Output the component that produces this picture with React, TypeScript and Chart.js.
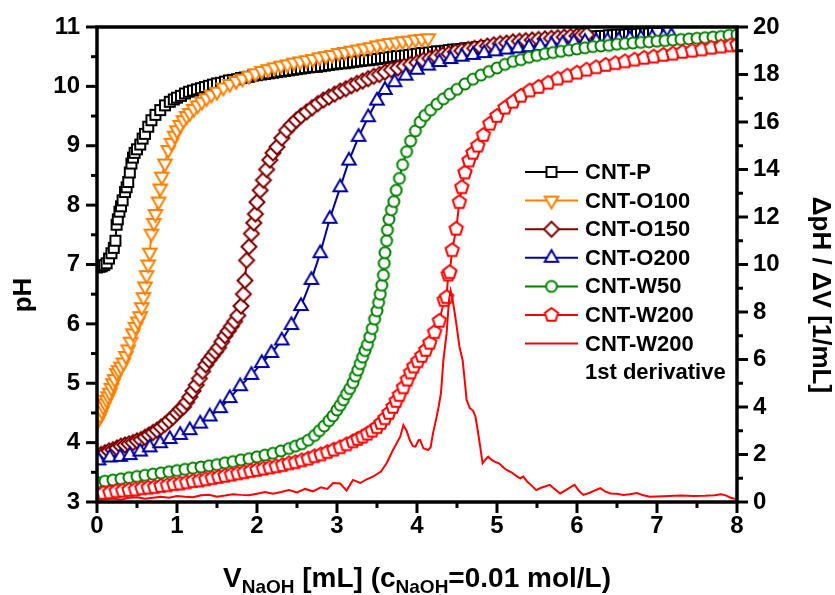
import React, { useEffect, useRef } from 'react';
import { Chart, registerables } from 'chart.js';

Chart.register(...registerables);

const FONT = '"Liberation Sans", Arial, Helvetica, sans-serif';

// ---- data: [V_NaOH (mL), value] ----
const cntP = [
  [0, 6.95], [0.03, 6.96], [0.06, 6.97], [0.09, 6.99], [0.12, 7.02], [0.15, 7.1], [0.18, 7.19], [0.21, 7.28],
  [0.23, 7.4], [0.245, 7.67], [0.26, 7.76], [0.28, 7.89], [0.3, 7.98], [0.32, 8.08], [0.35, 8.22], [0.37, 8.3],
  [0.39, 8.39], [0.41, 8.55], [0.43, 8.7], [0.45, 8.8], [0.47, 8.88], [0.5, 8.94], [0.54, 9.02], [0.57, 9.12],
  [0.6, 9.2], [0.64, 9.32], [0.68, 9.43], [0.73, 9.52], [0.79, 9.6], [0.85, 9.68], [0.91, 9.74], [0.96, 9.78],
  [1.0, 9.81], [1.05, 9.84], [1.1, 9.88], [1.15, 9.91], [1.2, 9.93], [1.25, 9.95], [1.3, 9.97], [1.35, 9.99],
  [1.4, 10.01], [1.45, 10.03], [1.5, 10.05], [1.55, 10.06], [1.6, 10.08], [1.65, 10.1], [1.7, 10.11], [1.75, 10.12],
  [1.8, 10.14], [1.85, 10.15], [1.9, 10.16], [1.95, 10.18], [2.0, 10.19], [2.05, 10.2], [2.1, 10.21], [2.15, 10.22],
  [2.2, 10.23], [2.25, 10.24], [2.3, 10.25], [2.35, 10.26], [2.4, 10.27], [2.45, 10.28], [2.5, 10.29], [2.55, 10.3],
  [2.6, 10.31], [2.65, 10.32], [2.7, 10.33], [2.75, 10.33], [2.8, 10.34], [2.85, 10.35], [2.9, 10.36], [2.95, 10.37],
  [3.0, 10.38], [3.05, 10.39], [3.1, 10.39], [3.15, 10.4], [3.2, 10.41], [3.25, 10.42], [3.3, 10.43], [3.35, 10.44],
  [3.4, 10.44], [3.45, 10.45], [3.5, 10.46], [3.55, 10.47], [3.6, 10.48], [3.65, 10.49], [3.7, 10.5], [3.75, 10.51],
  [3.8, 10.51], [3.85, 10.52], [3.9, 10.53], [3.95, 10.54], [4.0, 10.55], [4.05, 10.56], [4.1, 10.56], [4.15, 10.57],
  [4.2, 10.58], [4.25, 10.59], [4.3, 10.59], [4.35, 10.6], [4.4, 10.61], [4.45, 10.62], [4.5, 10.62], [4.55, 10.63],
  [4.6, 10.64], [4.65, 10.64], [4.7, 10.65], [4.75, 10.66], [4.8, 10.66], [4.85, 10.67], [4.9, 10.68], [4.95, 10.68],
  [5.0, 10.69], [5.05, 10.7], [5.1, 10.71], [5.15, 10.71], [5.2, 10.72], [5.25, 10.73], [5.3, 10.73], [5.35, 10.74],
  [5.4, 10.75], [5.45, 10.75], [5.5, 10.76], [5.55, 10.77], [5.6, 10.77], [5.65, 10.78], [5.7, 10.79], [5.75, 10.79],
  [5.8, 10.8], [5.85, 10.8], [5.9, 10.81], [5.95, 10.81], [6.0, 10.82], [6.05, 10.82], [6.1, 10.83], [6.15, 10.83],
  [6.2, 10.84], [6.25, 10.84], [6.3, 10.85], [6.35, 10.85], [6.4, 10.86], [6.45, 10.86], [6.5, 10.87], [6.55, 10.87],
  [6.6, 10.87], [6.65, 10.88], [6.7, 10.88], [6.75, 10.88], [6.8, 10.89], [6.85, 10.89], [6.9, 10.89], [6.95, 10.9],
  [7.0, 10.9],
];

const cntO100 = [
  [0, 4.35], [0.02, 4.4], [0.04, 4.46], [0.06, 4.53], [0.08, 4.6], [0.1, 4.66], [0.12, 4.72], [0.14, 4.78],
  [0.16, 4.84], [0.18, 4.92], [0.2, 5.0], [0.22, 5.07], [0.25, 5.17], [0.27, 5.22], [0.3, 5.28], [0.33, 5.35],
  [0.36, 5.46], [0.39, 5.57], [0.42, 5.7], [0.45, 5.84], [0.48, 5.95], [0.51, 6.04], [0.54, 6.13], [0.56, 6.28],
  [0.58, 6.45], [0.6, 6.63], [0.62, 6.82], [0.64, 7.0], [0.66, 7.2], [0.68, 7.52], [0.71, 7.7], [0.73, 7.85],
  [0.77, 8.06], [0.79, 8.28], [0.81, 8.48], [0.85, 8.7], [0.89, 8.93], [0.93, 9.05], [0.97, 9.17], [1.0, 9.26],
  [1.04, 9.35], [1.08, 9.43], [1.12, 9.5], [1.16, 9.55], [1.21, 9.62], [1.26, 9.68], [1.31, 9.74], [1.37, 9.8],
  [1.43, 9.86], [1.5, 9.91], [1.58, 9.98], [1.66, 10.04], [1.74, 10.09], [1.82, 10.13], [1.9, 10.18], [1.98, 10.22],
  [2.06, 10.26], [2.14, 10.29], [2.22, 10.32], [2.3, 10.35], [2.38, 10.37], [2.46, 10.4], [2.54, 10.42], [2.62, 10.44],
  [2.7, 10.46], [2.78, 10.49], [2.86, 10.51], [2.94, 10.53], [3.02, 10.56], [3.1, 10.58], [3.18, 10.6], [3.26, 10.62],
  [3.34, 10.64], [3.42, 10.66], [3.5, 10.69], [3.58, 10.71], [3.66, 10.73], [3.74, 10.74], [3.82, 10.76], [3.9, 10.77],
  [3.98, 10.79], [4.06, 10.8], [4.14, 10.81],
];

const cntO150 = [
  [0, 3.78], [0.05, 3.8], [0.1, 3.83], [0.15, 3.86], [0.2, 3.88], [0.25, 3.91], [0.3, 3.94], [0.35, 3.96],
  [0.4, 3.98], [0.45, 4.0], [0.5, 4.03], [0.55, 4.05], [0.6, 4.09], [0.65, 4.13], [0.7, 4.17], [0.75, 4.21],
  [0.8, 4.26], [0.85, 4.31], [0.9, 4.37], [0.95, 4.43], [1.0, 4.5], [1.04, 4.56], [1.08, 4.6], [1.12, 4.68],
  [1.16, 4.77], [1.2, 4.87], [1.24, 4.97], [1.28, 5.08], [1.32, 5.2], [1.36, 5.31], [1.4, 5.39], [1.44, 5.46],
  [1.48, 5.53], [1.52, 5.6], [1.56, 5.7], [1.6, 5.8], [1.64, 5.88], [1.68, 5.96], [1.72, 6.04], [1.76, 6.14],
  [1.8, 6.3], [1.83, 6.5], [1.85, 6.73], [1.87, 7.07], [1.9, 7.3], [1.93, 7.52], [1.96, 7.7], [1.98, 7.85],
  [2.0, 8.05], [2.04, 8.25], [2.08, 8.42], [2.12, 8.6], [2.16, 8.76], [2.2, 8.88], [2.25, 8.98], [2.31, 9.13],
  [2.37, 9.26], [2.43, 9.35], [2.49, 9.43], [2.55, 9.5], [2.62, 9.57], [2.69, 9.64], [2.76, 9.71], [2.83, 9.77],
  [2.9, 9.82], [2.97, 9.87], [3.04, 9.92], [3.11, 9.96], [3.18, 10.01], [3.25, 10.05], [3.32, 10.09], [3.39, 10.13],
  [3.46, 10.17], [3.53, 10.2], [3.6, 10.24], [3.68, 10.28], [3.76, 10.31], [3.84, 10.34], [3.92, 10.37], [4.0, 10.4],
  [4.08, 10.44], [4.16, 10.47], [4.24, 10.5], [4.32, 10.53], [4.4, 10.55], [4.48, 10.58], [4.56, 10.6], [4.64, 10.62],
  [4.72, 10.64], [4.8, 10.66], [4.88, 10.68], [4.96, 10.7], [5.04, 10.72], [5.12, 10.73], [5.2, 10.75], [5.28, 10.76],
  [5.36, 10.77], [5.44, 10.78], [5.52, 10.79], [5.6, 10.8], [5.68, 10.81], [5.76, 10.82], [5.84, 10.83], [5.92, 10.84],
  [6.0, 10.85], [6.06, 10.86], [6.12, 10.87],
];

const cntO200 = [
  [0.02, 3.7], [0.16, 3.75], [0.29, 3.76], [0.41, 3.79], [0.54, 3.85], [0.66, 3.92], [0.79, 3.99], [0.91, 4.06],
  [1.04, 4.13], [1.16, 4.21], [1.29, 4.32], [1.41, 4.44], [1.54, 4.58], [1.66, 4.75], [1.79, 4.95], [1.93, 5.14],
  [2.06, 5.34], [2.18, 5.51], [2.31, 5.72], [2.43, 5.98], [2.55, 6.3], [2.68, 6.74], [2.79, 7.19], [2.91, 7.77],
  [3.04, 8.3], [3.15, 8.75], [3.27, 9.15], [3.39, 9.48], [3.5, 9.76], [3.6, 9.94], [3.72, 10.07], [3.86, 10.18],
  [4.0, 10.28], [4.14, 10.35], [4.28, 10.41], [4.42, 10.46], [4.56, 10.5], [4.7, 10.53], [4.84, 10.56], [4.98, 10.59],
  [5.12, 10.62], [5.26, 10.64], [5.4, 10.66], [5.54, 10.68], [5.68, 10.7], [5.82, 10.72], [5.96, 10.74], [6.1, 10.75],
  [6.24, 10.76], [6.38, 10.77], [6.52, 10.78], [6.66, 10.8], [6.8, 10.81], [6.94, 10.82], [7.08, 10.83], [7.18, 10.85],
];

const cntW50 = [
  [0, 3.33], [0.1, 3.35], [0.2, 3.37], [0.3, 3.39], [0.4, 3.41], [0.5, 3.43], [0.6, 3.45], [0.7, 3.47],
  [0.8, 3.49], [0.9, 3.51], [1.0, 3.53], [1.1, 3.55], [1.2, 3.57], [1.3, 3.59], [1.4, 3.61], [1.5, 3.63],
  [1.6, 3.66], [1.7, 3.68], [1.8, 3.71], [1.9, 3.73], [2.0, 3.76], [2.1, 3.79], [2.2, 3.82], [2.3, 3.86],
  [2.4, 3.9], [2.48, 3.94], [2.56, 3.98], [2.64, 4.04], [2.72, 4.12], [2.78, 4.2], [2.84, 4.28], [2.9, 4.37],
  [2.95, 4.45], [3.0, 4.55], [3.04, 4.63], [3.08, 4.72], [3.12, 4.82], [3.16, 4.91], [3.2, 5.01], [3.23, 5.12],
  [3.26, 5.22], [3.29, 5.33], [3.32, 5.44], [3.35, 5.55], [3.38, 5.65], [3.41, 5.78], [3.44, 5.92], [3.47, 6.08],
  [3.5, 6.22], [3.52, 6.36], [3.54, 6.5], [3.56, 6.65], [3.58, 6.82], [3.59, 7.02], [3.6, 7.2], [3.62, 7.4],
  [3.63, 7.58], [3.65, 7.76], [3.68, 7.92], [3.71, 8.06], [3.74, 8.25], [3.78, 8.45], [3.82, 8.68], [3.87, 8.9],
  [3.92, 9.08], [3.98, 9.25], [4.04, 9.4], [4.1, 9.51], [4.17, 9.6], [4.25, 9.7], [4.33, 9.79], [4.41, 9.87],
  [4.5, 9.95], [4.6, 10.04], [4.7, 10.12], [4.8, 10.19], [4.9, 10.25], [5.0, 10.31], [5.1, 10.37], [5.2, 10.42],
  [5.3, 10.45], [5.4, 10.49], [5.5, 10.52], [5.6, 10.55], [5.7, 10.57], [5.8, 10.59], [5.9, 10.61], [6.0, 10.63],
  [6.1, 10.65], [6.2, 10.67], [6.3, 10.68], [6.4, 10.69], [6.5, 10.71], [6.6, 10.72], [6.7, 10.73], [6.8, 10.74],
  [6.9, 10.75], [7.0, 10.76], [7.1, 10.77], [7.2, 10.78], [7.3, 10.79], [7.4, 10.8], [7.5, 10.81], [7.6, 10.82],
  [7.7, 10.83], [7.8, 10.84], [7.9, 10.86], [8.0, 10.87],
];

const cntW200 = [
  [0, 3.14], [0.08, 3.15], [0.16, 3.16], [0.24, 3.18], [0.32, 3.19], [0.4, 3.2], [0.48, 3.21], [0.56, 3.23],
  [0.64, 3.24], [0.72, 3.25], [0.8, 3.27], [0.88, 3.28], [0.96, 3.3], [1.04, 3.31], [1.12, 3.33], [1.2, 3.35],
  [1.28, 3.36], [1.36, 3.38], [1.44, 3.4], [1.52, 3.42], [1.6, 3.44], [1.68, 3.46], [1.76, 3.48], [1.84, 3.5],
  [1.92, 3.52], [2.0, 3.54], [2.08, 3.56], [2.16, 3.58], [2.24, 3.6], [2.32, 3.62], [2.4, 3.65], [2.48, 3.67],
  [2.56, 3.7], [2.64, 3.73], [2.72, 3.77], [2.8, 3.8], [2.88, 3.84], [2.96, 3.88], [3.04, 3.92], [3.12, 3.97],
  [3.2, 4.02], [3.26, 4.06], [3.32, 4.1], [3.38, 4.15], [3.44, 4.2], [3.5, 4.26], [3.55, 4.33], [3.6, 4.41],
  [3.65, 4.5], [3.7, 4.6], [3.74, 4.7], [3.78, 4.8], [3.83, 4.93], [3.88, 5.06], [3.92, 5.18], [3.96, 5.28],
  [4.01, 5.37], [4.06, 5.46], [4.11, 5.56], [4.16, 5.68], [4.22, 5.86], [4.28, 6.05], [4.34, 6.4], [4.37, 6.45],
  [4.39, 6.83], [4.41, 6.87], [4.44, 7.24], [4.49, 7.6], [4.53, 8.05], [4.56, 8.3], [4.6, 8.55], [4.65, 8.75],
  [4.7, 8.88], [4.76, 9.0], [4.83, 9.18], [4.91, 9.37], [5.0, 9.5], [5.1, 9.64], [5.2, 9.74], [5.3, 9.84],
  [5.41, 9.93], [5.52, 9.99], [5.64, 10.06], [5.76, 10.13], [5.88, 10.18], [6.0, 10.23], [6.12, 10.28], [6.24, 10.32],
  [6.36, 10.36], [6.48, 10.39], [6.6, 10.42], [6.72, 10.45], [6.84, 10.48], [6.96, 10.5], [7.08, 10.53], [7.2, 10.55],
  [7.32, 10.58], [7.44, 10.6], [7.56, 10.62], [7.68, 10.65], [7.8, 10.67], [7.92, 10.69], [8.0, 10.7],
];

// first derivative dpH/dV for CNT-W200 (right axis, 1/mL)
const derivW200 = [
  [0, 0.1], [0.1, 0.12], [0.2, 0.15], [0.3, 0.1], [0.4, 0.18], [0.5, 0.2], [0.6, 0.14], [0.7, 0.18],
  [0.8, 0.22], [0.9, 0.18], [1.0, 0.25], [1.1, 0.22], [1.2, 0.2], [1.3, 0.28], [1.4, 0.3], [1.5, 0.22],
  [1.6, 0.27], [1.7, 0.33], [1.8, 0.3], [1.9, 0.28], [2.0, 0.35], [2.1, 0.42], [2.2, 0.35], [2.3, 0.42],
  [2.4, 0.5], [2.5, 0.4], [2.6, 0.55], [2.7, 0.45], [2.8, 0.62], [2.88, 0.55], [2.95, 0.8], [3.04, 0.78],
  [3.12, 0.48], [3.2, 0.93], [3.29, 0.8], [3.37, 0.95], [3.45, 1.07], [3.55, 1.28], [3.62, 1.63], [3.7, 2.19],
  [3.79, 2.75], [3.83, 3.24], [3.87, 3.0], [3.91, 2.6], [3.95, 2.35], [3.98, 2.33], [4.02, 2.6], [4.04, 2.61],
  [4.08, 2.26], [4.14, 2.19], [4.17, 2.3], [4.2, 2.89], [4.24, 3.5], [4.27, 4.0], [4.3, 4.6], [4.33, 5.98],
  [4.37, 7.1], [4.4, 8.5], [4.42, 8.9], [4.44, 8.6], [4.47, 8.0], [4.5, 7.3], [4.53, 6.54], [4.57, 5.98],
  [4.6, 5.0], [4.62, 4.3], [4.66, 3.95], [4.7, 3.85], [4.73, 3.6], [4.76, 3.0], [4.79, 2.33], [4.82, 1.63],
  [4.86, 1.8], [4.89, 1.91], [4.93, 1.78], [4.97, 1.7], [5.03, 1.62], [5.08, 1.45], [5.12, 1.35], [5.18, 1.25],
  [5.24, 1.1], [5.29, 1.0], [5.33, 1.07], [5.38, 0.85], [5.43, 0.7], [5.49, 0.5], [5.55, 0.6], [5.6, 0.65],
  [5.66, 0.72], [5.72, 0.55], [5.79, 0.36], [5.86, 0.5], [5.93, 0.65], [5.97, 0.72], [6.03, 0.45], [6.08, 0.3],
  [6.15, 0.38], [6.22, 0.48], [6.29, 0.58], [6.35, 0.45], [6.42, 0.36], [6.5, 0.35], [6.58, 0.3], [6.66, 0.33],
  [6.75, 0.38], [6.83, 0.28], [6.91, 0.22], [7.0, 0.23], [7.15, 0.25], [7.3, 0.27], [7.45, 0.25], [7.6, 0.26],
  [7.72, 0.28], [7.8, 0.33], [7.86, 0.28], [7.92, 0.18], [7.96, 0.15], [8.0, 0.14],
];

const seriesNames = ['CNT-P', 'CNT-O100', 'CNT-O150', 'CNT-O200', 'CNT-W50', 'CNT-W200', 'CNT-W200'];
const derivativeNote = '1st derivative';
const seriesColors = ['#000000', '#FF8000', '#800000', '#0000A0', '#008000', '#FF0000', '#FF0000'];
const seriesMarkers = ['square', 'triangleDown', 'diamond', 'triangle', 'circle', 'pentagon', 'none'];
const seriesData = [cntP, cntO100, cntO150, cntO200, cntW50, cntW200, derivW200];

const yLeftTitle = 'pH';
const yRightTitle = 'ΔpH / ΔV [1/mL]';
const xTitleParts: [string, boolean][] = [
  ['V', false], ['NaOH', true], [' [mL] (c', false], ['NaOH', true], ['=0.01 mol/L)', false],
];

function markerPath(ctx: CanvasRenderingContext2D, kind: string, x: number, y: number) {
  ctx.beginPath();
  const poly = (r: number, n: number, start: number) => {
    for (let k = 0; k < n; k++) {
      const a = start + (k * 2 * Math.PI) / n;
      const px = x + r * Math.cos(a);
      const py = y + r * Math.sin(a);
      if (k === 0) ctx.moveTo(px, py);
      else ctx.lineTo(px, py);
    }
    ctx.closePath();
  };
  switch (kind) {
    case 'square':
      ctx.rect(x - 5, y - 5, 10, 10);
      break;
    case 'triangle':
      poly(7.8, 3, -Math.PI / 2);
      break;
    case 'triangleDown':
      poly(7.8, 3, Math.PI / 2);
      break;
    case 'diamond':
      poly(7.5, 4, -Math.PI / 2);
      break;
    case 'circle':
      ctx.arc(x, y, 5.5, 0, Math.PI * 2);
      break;
    case 'pentagon':
      poly(7, 5, -Math.PI / 2);
      break;
  }
}

function makeMarker(kind: string, color: string) {
  const c = document.createElement('canvas');
  c.width = 22;
  c.height = 22;
  const g = c.getContext('2d')!;
  markerPath(g, kind, 11, 11);
  g.fillStyle = '#ffffff';
  g.fill();
  g.strokeStyle = color;
  g.lineWidth = 2;
  g.lineJoin = 'miter';
  g.stroke();
  return c;
}

const decorPlugin = {
  id: 'decor',
  afterDatasetsDraw(chart: any) {
    const { ctx, chartArea: a } = chart;
    const xs = chart.scales.x;
    const yl = chart.scales.y;
    const yr = chart.scales.y2;
    ctx.save();
    ctx.strokeStyle = '#000';
    ctx.lineCap = 'butt';
    ctx.lineWidth = 3;
    for (let v = 0; v <= 8.001; v += 0.5) {
      const p = xs.getPixelForValue(v);
      const major = Math.abs(v - Math.round(v)) < 1e-6;
      ctx.beginPath();
      ctx.moveTo(p, a.bottom);
      ctx.lineTo(p, a.bottom + (major ? 11 : 6));
      ctx.stroke();
    }
    for (let v = 3; v <= 11.001; v += 0.5) {
      const p = yl.getPixelForValue(v);
      const major = Math.abs(v - Math.round(v)) < 1e-6;
      ctx.beginPath();
      ctx.moveTo(a.left, p);
      ctx.lineTo(a.left - (major ? 11 : 6), p);
      ctx.stroke();
    }
    for (let v = 0; v <= 20.001; v += 1) {
      const p = yr.getPixelForValue(v);
      const major = Math.round(v) % 2 === 0;
      ctx.beginPath();
      ctx.moveTo(a.right, p);
      ctx.lineTo(a.right + (major ? 11 : 6), p);
      ctx.stroke();
    }
    ctx.lineWidth = 3.5;
    ctx.strokeRect(a.left, a.top, a.right - a.left, a.bottom - a.top);

    // legend
    const markers = chart.$markers as HTMLCanvasElement[];
    const y0 = 172;
    const dy = 28.6;
    ctx.font = `bold 22px ${FONT}`;
    ctx.fillStyle = '#000';
    ctx.textAlign = 'left';
    ctx.textBaseline = 'middle';
    for (let i = 0; i < seriesNames.length; i++) {
      const y = y0 + i * dy;
      ctx.strokeStyle = seriesColors[i];
      ctx.lineWidth = 2;
      ctx.beginPath();
      ctx.moveTo(525, y);
      ctx.lineTo(578, y);
      ctx.stroke();
      if (markers[i]) {
        ctx.drawImage(markers[i], 551.5 - 11, y - 11);
      }
      ctx.fillText(seriesNames[i], 585, y + 1);
    }
    ctx.fillText(derivativeNote, 585, y0 + seriesNames.length * dy + 1);
    ctx.restore();
  },
  afterDraw(chart: any) {
    const { ctx } = chart;
    ctx.save();
    ctx.fillStyle = '#000';
    // left title
    ctx.font = `bold 26px ${FONT}`;
    ctx.textAlign = 'center';
    ctx.textBaseline = 'alphabetic';
    ctx.translate(31, 295);
    ctx.rotate(-Math.PI / 2);
    ctx.fillText(yLeftTitle, 0, 0);
    ctx.restore();

    ctx.save();
    ctx.fillStyle = '#000';
    ctx.font = `bold 26px ${FONT}`;
    ctx.textAlign = 'center';
    ctx.textBaseline = 'alphabetic';
    ctx.translate(813, 295);
    ctx.rotate(Math.PI / 2);
    ctx.fillText(yRightTitle, 0, 0);
    ctx.restore();

    // x title with subscripts
    ctx.save();
    ctx.fillStyle = '#000';
    ctx.textAlign = 'left';
    ctx.textBaseline = 'alphabetic';
    const mainFont = `bold 28px ${FONT}`;
    const subFont = `bold 19px ${FONT}`;
    let total = 0;
    const widths = xTitleParts.map(([t, sub]) => {
      ctx.font = sub ? subFont : mainFont;
      const w = ctx.measureText(t).width;
      total += w;
      return w;
    });
    let x = 417 - total / 2;
    const base = 587;
    xTitleParts.forEach(([t, sub], i) => {
      ctx.font = sub ? subFont : mainFont;
      ctx.fillText(t, x, sub ? base + 6 : base);
      x += widths[i];
    });
    ctx.restore();
  },
};

export default function App() {
  const ref = useRef<HTMLCanvasElement | null>(null);

  useEffect(() => {
    const canvas = ref.current;
    if (!canvas) return;
    const markers = seriesMarkers.map((m, i) => (m === 'none' ? null : makeMarker(m, seriesColors[i])));
    const tickFont = { family: FONT, size: 24, weight: 'bold' as const };

    const datasets = seriesData.map((d, i) => {
      const isDeriv = seriesMarkers[i] === 'none';
      return {
        label: seriesNames[i] + (isDeriv ? ' ' + derivativeNote : ''),
        data: d,
        yAxisID: isDeriv ? 'y2' : 'y',
        borderColor: seriesColors[i],
        backgroundColor: seriesColors[i],
        borderWidth: 2,
        tension: 0,
        pointStyle: isDeriv ? 'circle' : (markers[i] as any),
        pointRadius: isDeriv ? 0 : 7,
        pointHoverRadius: isDeriv ? 0 : 7,
        order: seriesData.length - 1 - i,
        clip: 0,
      };
    });

    const chart: any = new Chart(canvas, {
      type: 'line',
      data: { datasets: datasets as any },
      options: {
        responsive: false,
        animation: false,
        devicePixelRatio: 1,
        layout: { padding: { top: 27, left: 0, right: 0, bottom: 0 } },
        plugins: { legend: { display: false }, tooltip: { enabled: false } },
        events: [],
        scales: {
          x: {
            type: 'linear',
            position: 'bottom',
            min: 0,
            max: 8,
            grid: { display: false, tickLength: 10 },
            border: { display: false },
            ticks: { stepSize: 1, font: tickFont, color: '#000', padding: 0, maxRotation: 0 },
            afterFit: (s: any) => { s.height = 93; },
          },
          y: {
            type: 'linear',
            position: 'left',
            min: 3,
            max: 11,
            grid: { display: false, tickLength: 10 },
            border: { display: false },
            ticks: { stepSize: 1, font: tickFont, color: '#000', padding: 7 },
            afterFit: (s: any) => { s.width = 97; },
          },
          y2: {
            type: 'linear',
            position: 'right',
            min: 0,
            max: 20,
            grid: { display: false, tickLength: 10 },
            border: { display: false },
            ticks: { stepSize: 2, font: tickFont, color: '#000', padding: 6 },
            afterFit: (s: any) => { s.width = 98; },
          },
        },
      },
      plugins: [
        {
          id: 'markerStore',
          beforeInit(c: any) { c.$markers = markers; },
        },
        decorPlugin,
      ],
    });

    return () => chart.destroy();
  }, []);

  return (
    <div style={{ position: 'fixed', left: 0, top: 0, width: 835, height: 595, background: '#fff' }}>
      <canvas ref={ref} width={835} height={595} style={{ display: 'block', width: 835, height: 595 }} />
    </div>
  );
}
